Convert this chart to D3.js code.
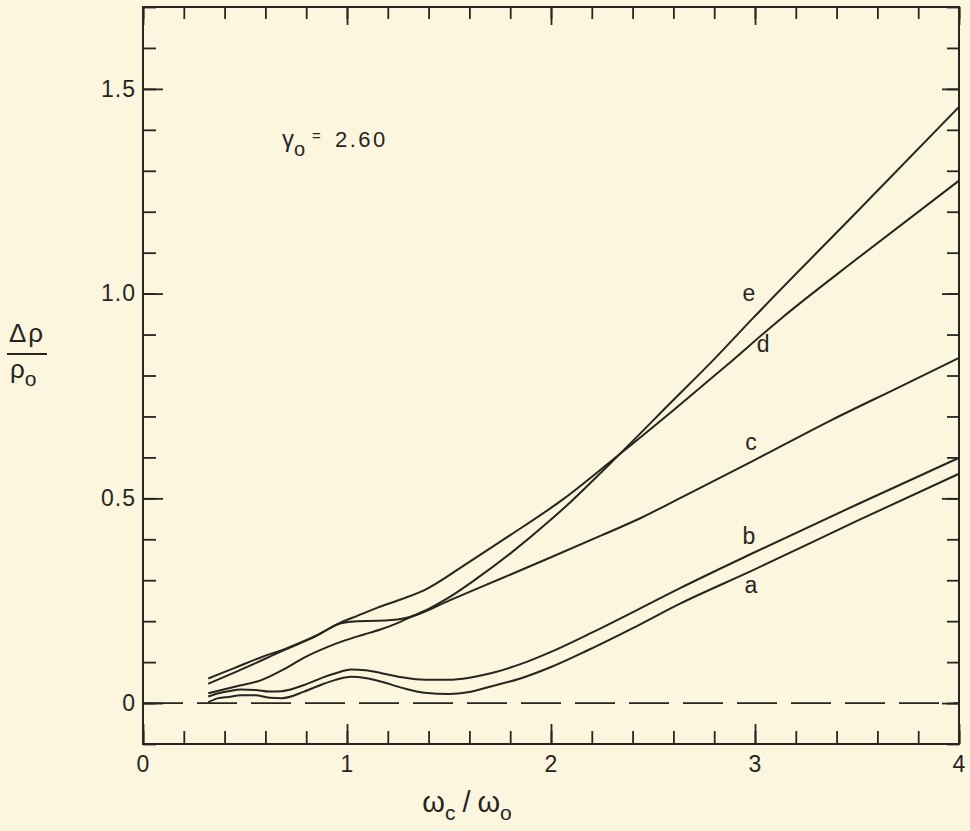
<!DOCTYPE html>
<html>
<head>
<meta charset="utf-8">
<script src="https://cdn.jsdelivr.net/npm/d3@7"></script>
<style>
	body { margin: 0; background: #fcf6de; }
	svg { display: block; }
	text { font-family: "Liberation Sans", Arial, sans-serif; fill: #26251f; }
	.tick line { stroke: #26251f; stroke-width: 1.8; }
	.tick text { font-size: 23px; fill: #26251f; letter-spacing: 1px; }
</style>
</head>
<body>
<script>
// readings: [omega_c / omega_0, delta rho / rho_0]
const curveA = [[0.32, 0.002], [0.37, 0.012], [0.42, 0.015], [0.48, 0.019], [0.55, 0.019], [0.62, 0.013], [0.68, 0.012],
	[0.79, 0.028], [0.88, 0.046], [0.94, 0.056], [1.02, 0.064], [1.09, 0.061], [1.17, 0.052], [1.27, 0.037], [1.38, 0.025],
	[1.5, 0.022], [1.6, 0.027], [1.7, 0.04], [1.85, 0.06], [2.0, 0.088], [2.18, 0.129], [2.44, 0.193], [2.63, 0.242],
	[2.98, 0.322], [3.5, 0.445], [4.0, 0.56]];
const curveB = [[0.32, 0.016], [0.37, 0.024], [0.42, 0.029], [0.48, 0.033], [0.55, 0.032], [0.62, 0.028], [0.68, 0.029],
	[0.79, 0.044], [0.88, 0.062], [0.94, 0.072], [1.02, 0.082], [1.09, 0.08], [1.17, 0.073], [1.27, 0.063], [1.38, 0.057],
	[1.5, 0.057], [1.6, 0.062], [1.7, 0.072], [1.85, 0.095], [2.0, 0.125], [2.2, 0.172], [2.44, 0.232], [2.63, 0.28],
	[2.98, 0.364], [3.5, 0.485], [4.0, 0.599]];
const curveC = [[0.32, 0.047], [0.45, 0.075], [0.58, 0.104], [0.7, 0.131], [0.85, 0.164], [0.97, 0.195], [1.05, 0.2],
	[1.15, 0.201], [1.27, 0.206], [1.35, 0.217], [1.5, 0.25], [1.75, 0.303], [2.0, 0.356], [2.25, 0.41], [2.44, 0.452],
	[2.63, 0.5], [3.0, 0.594], [3.37, 0.69], [3.7, 0.77], [4.0, 0.843]];
const curveD = [[0.32, 0.06], [0.45, 0.086], [0.58, 0.112], [0.7, 0.133], [0.85, 0.165], [0.97, 0.197], [1.05, 0.213],
	[1.15, 0.233], [1.27, 0.254], [1.38, 0.276], [1.6, 0.345], [1.8, 0.41], [2.06, 0.498], [2.3, 0.593], [2.6, 0.715],
	[2.85, 0.82], [3.13, 0.94], [3.5, 1.085], [4.0, 1.276]];
const curveE = [[0.32, 0.024], [0.45, 0.04], [0.58, 0.056], [0.7, 0.085], [0.79, 0.111], [0.9, 0.136], [0.99, 0.153],
	[1.08, 0.167], [1.16, 0.179], [1.25, 0.196], [1.32, 0.212], [1.4, 0.23], [1.5, 0.258], [1.63, 0.302], [1.8, 0.365],
	[2.0, 0.448], [2.1, 0.493], [2.3, 0.59], [2.6, 0.74], [2.8, 0.84], [2.99, 0.94], [3.5, 1.2], [4.0, 1.456]];

const curveNames = ['a', 'b', 'c', 'd', 'e'];
// where each letter sits, in data units
const labelSpots = [[2.98, 0.27], [2.97, 0.388], [2.98, 0.618], [3.04, 0.857], [2.97, 0.982]];

const xMajor = [0, 1, 2, 3, 4];
const yMajor = [0, 0.5, 1.0, 1.5];
const yMajorText = ['0', '0.5', '1.0', '1.5'];

const width = 970;
const height = 831;
const ink = '#26251f';

const svg = d3.select('body')
	.append('svg')
	.attr('width', width)
	.attr('height', height);

const x = d3.scaleLinear()
	.domain([0, 4])
	.range([143, 959]);

const y = d3.scaleLinear()
	.domain([-0.1, 1.7])
	.range([744, 7]);

// inward ticks on all four sides, minor ones first
function addAxis(axis, tx, ty) {
	const g = svg.append('g')
		.attr('transform', 'translate(' + tx + ',' + ty + ')')
		.call(axis);
	g.select('.domain').remove();
	return g;
}

const xMinor = d3.range(0, 4.001, 0.2);
const yMinor = d3.range(-0.1, 1.701, 0.1);

addAxis(d3.axisBottom(x).tickValues(xMinor).tickSize(-13).tickFormat(''), 0, y(-0.1));
addAxis(d3.axisBottom(x).tickValues(xMajor).tickSize(-20).tickPadding(12).tickFormat(d3.format('d')), 0, y(-0.1));
addAxis(d3.axisTop(x).tickValues(xMinor).tickSize(-12).tickFormat(''), 0, y(1.7));
addAxis(d3.axisTop(x).tickValues(xMajor).tickSize(-18).tickFormat(''), 0, y(1.7));

addAxis(d3.axisLeft(y).tickValues(yMinor).tickSize(-13).tickFormat(''), x(0), 0);
addAxis(d3.axisLeft(y).tickValues(yMajor).tickSize(-20).tickPadding(7)
	.tickFormat(function(d, i) { return yMajorText[i]; }), x(0), 0);
addAxis(d3.axisRight(y).tickValues(yMinor).tickSize(-12).tickFormat(''), x(4), 0);
addAxis(d3.axisRight(y).tickValues(yMajor).tickSize(-17).tickFormat(''), x(4), 0);

// frame
svg.append('rect')
	.attr('x', x(0))
	.attr('y', y(1.7))
	.attr('width', x(4) - x(0))
	.attr('height', y(-0.1) - y(1.7))
	.attr('fill', 'none')
	.attr('stroke', ink)
	.attr('stroke-width', 2);

// zero line
svg.append('line')
	.attr('x1', x(0))
	.attr('x2', x(4))
	.attr('y1', y(0))
	.attr('y2', y(0))
	.attr('stroke', ink)
	.attr('stroke-width', 1.8)
	.attr('stroke-dasharray', '40 14');

const line = d3.line()
	.x(function(d) { return x(d[0]); })
	.y(function(d) { return y(d[1]); })
	.curve(d3.curveMonotoneX);

svg.selectAll('path.curve')
	.data([curveA, curveB, curveC, curveD, curveE])
	.enter()
	.append('path')
	.attr('class', 'curve')
	.attr('d', line)
	.attr('fill', 'none')
	.attr('stroke', ink)
	.attr('stroke-width', 2);

svg.selectAll('text.name')
	.data(curveNames)
	.enter()
	.append('text')
	.attr('class', 'name')
	.attr('x', function(d, i) { return x(labelSpots[i][0]); })
	.attr('y', function(d, i) { return y(labelSpots[i][1]); })
	.attr('text-anchor', 'middle')
	.style('font-size', '23px')
	.text(function(d) { return d; });

// gamma_0 = 2.60
const gam = svg.append('text')
	.attr('y', 147)
	.style('font-size', '24px');
gam.append('tspan').attr('x', 282).text('γ');
gam.append('tspan').attr('dy', 9).style('font-size', '20px').text('o');
gam.append('tspan').attr('x', 312).attr('dy', -15).style('font-size', '15px').text('=');
gam.append('tspan').attr('x', 335).attr('dy', 6).style('letter-spacing', '2.5px').style('font-size', '22px').text('2.60');

// y axis label as a fraction
svg.append('text')
	.attr('x', 27)
	.attr('y', 342)
	.attr('text-anchor', 'middle')
	.style('font-size', '26px')
	.style('letter-spacing', '2px')
	.text('Δρ');
svg.append('line')
	.attr('x1', 7)
	.attr('x2', 47)
	.attr('y1', 354)
	.attr('y2', 354)
	.attr('stroke', ink)
	.attr('stroke-width', 2);
const rho0 = svg.append('text')
	.attr('x', 10)
	.attr('y', 378)
	.style('font-size', '26px');
rho0.append('tspan').text('ρ');
rho0.append('tspan').attr('dy', 8).style('font-size', '21px').text('o');

// x axis label
const xl = svg.append('text')
	.attr('x', 467)
	.attr('y', 812)
	.attr('text-anchor', 'middle')
	.style('font-size', '29px');
xl.append('tspan').text('ω');
xl.append('tspan').attr('dy', 8).style('font-size', '21px').text('c');
xl.append('tspan').attr('dx', 7).attr('dy', -8).text('/');
xl.append('tspan').attr('dx', 7).text('ω');
xl.append('tspan').attr('dy', 8).style('font-size', '21px').text('o');
</script>
</body>
</html>
